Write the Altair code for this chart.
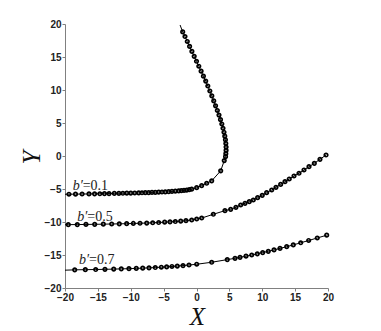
import altair as alt
import pandas as pd

# b'=0.1 curve (markers, in drawing order)
b01_x = [-19.4, -18.4, -17.4, -16.35, -15.5, -14.7, -14.0, -13.3, -12.5, -11.8, -11.2, -10.6,
         -10.0, -9.4, -8.79, -8.29, -7.79, -7.27, -6.77, -6.27, -5.75, -5.25, -4.75, -4.23,
         -3.73, -3.22, -2.71, -2.31, -1.9, -1.49, -1.1, -0.73, 0.03, 0.79, 1.55, 2.31, 3.68,
         4.22, 4.42, 4.46, 4.5, 4.5, 4.46, 4.4, 4.3, 4.18, 4.03, 3.85, 3.65, 3.42, 3.17, 2.9,
         2.62, 2.33, 2.03, 1.72, 1.4, 1.05, 0.7, 0.35, 0.0, -0.35, -0.7, -1.05, -1.4, -1.75, -2.1]
b01_y = [-5.79, -5.78, -5.76, -5.75, -5.73, -5.72, -5.7, -5.69, -5.67, -5.66, -5.65, -5.63,
         -5.62, -5.6, -5.59, -5.57, -5.56, -5.54, -5.52, -5.5, -5.48, -5.46, -5.43, -5.4,
         -5.37, -5.33, -5.29, -5.25, -5.21, -5.16, -5.1, -5.03, -4.8, -4.48, -4.13, -3.76, -2.25,
         -0.7, -0.1, 0.35, 0.85, 1.35, 1.9, 2.45, 3.0, 3.6, 4.2, 4.85, 5.5, 6.2, 6.9, 7.6,
         8.35, 9.1, 9.85, 10.6, 11.35, 12.1, 12.85, 13.6, 14.35, 15.1, 15.85, 16.6, 17.35, 18.1, 18.8]
b01_start = (-20.0, -5.8)
b01_end = (-2.5, 19.85)

# b'=0.5 curve
b05_x = [-19.5, -18.13, -16.81, -15.48, -14.17, -12.9, -11.74, -10.62, -9.61, -8.59, -7.57,
         -6.66, -5.75, -4.84, -4.03, -3.22, -2.4, -1.6, -0.73, 0.03, 0.79, 2.56, 4.33, 5.2,
         6.0, 6.72, 7.38, 8.03, 8.64, 9.3, 10.0, 10.67, 11.44, 12.09, 12.8, 13.46, 14.11,
         14.83, 15.59, 16.35, 17.11, 17.92, 18.78, 19.7]
b05_y = [-10.4, -10.39, -10.37, -10.35, -10.33, -10.3, -10.28, -10.25, -10.22, -10.19, -10.16,
         -10.12, -10.08, -10.03, -9.98, -9.93, -9.87, -9.8, -9.7, -9.55, -9.4, -8.83, -8.28, -8.08,
         -7.78, -7.42, -7.17, -6.92, -6.67, -6.31, -5.96, -5.56, -5.15, -4.75, -4.3, -3.89, -3.48,
         -3.03, -2.62, -2.12, -1.62, -1.11, -0.5, 0.15]
b05_start = (-20.0, -10.42)

# b'=0.7 curve
b07_x = [-18.52, -16.91, -15.33, -13.92, -12.59, -11.44, -10.27, -9.16, -8.18, -7.22, -6.27,
         -5.35, -4.54, -3.73, -2.92, -2.05, -1.14, 0.03, 2.31, 4.68, 5.86, 6.62, 7.53, 8.40,
         9.25, 10.07, 10.92, 11.79, 12.70, 13.72, 14.72, 15.85, 17.06, 18.37, 19.80]
b07_y = [-17.25, -17.22, -17.2, -17.17, -17.14, -17.1, -17.07, -17.03, -16.99, -16.95, -16.9,
         -16.85, -16.8, -16.74, -16.68, -16.6, -16.52, -16.4, -16.1, -15.7, -15.5, -15.35, -15.18, -15.0,
         -14.82, -14.63, -14.44, -14.23, -14.0, -13.74, -13.47, -13.15, -12.8, -12.42, -12.0]
b07_start = (-20.0, -17.3)

labels = ["0.1", "0.5", "0.7"]
label_x = [-18.83, -18.13, -17.87]
label_y = [-5.15, -9.85, -16.36]

rows = []
def add(name, xs, ys, start, end=None):
    o = 0
    rows.append(dict(curve=name, x=start[0], y=start[1], ord=o, m=0))
    for xv, yv in zip(xs, ys):
        o += 1
        rows.append(dict(curve=name, x=xv, y=yv, ord=o, m=1))
    if end is not None:
        rows.append(dict(curve=name, x=end[0], y=end[1], ord=o + 1, m=0))

add("0.1", b01_x, b01_y, b01_start, b01_end)
add("0.5", b05_x, b05_y, b05_start)
add("0.7", b07_x, b07_y, b07_start)
df = pd.DataFrame(rows)
lab = pd.DataFrame({"x": label_x, "y": label_y, "t": ["=" + s for s in labels]})

xs = alt.Scale(domain=[-20, 20], nice=False, zero=False)
ys = alt.Scale(domain=[-20, 20], nice=False, zero=False)
ticks = [-20, -15, -10, -5, 0, 5, 10, 15, 20]

axis_common = dict(grid=False, domainColor="#808080", tickColor="#808080", tickSize=3,
                   labelFont="Liberation Sans", labelFontWeight="bold", labelFontSize=10,
                   labelColor="#222222", labelPadding=1, values=ticks, labelOverlap=False,
                   labelFlush=False,
                   titleFont="Liberation Serif", titleFontStyle="italic",
                   titleFontWeight="normal", titleFontSize=25, titleColor="#111111",
                   titleBaseline="middle")

x_ax = alt.Axis(title="X", titleX=132, titleY=28, **axis_common)
y_ax = alt.Axis(title="Y", titleX=-34, titleY=133, titleAngle=270, **axis_common)

def X():
    return alt.X("x:Q", scale=xs, axis=x_ax)

def Y():
    return alt.Y("y:Q", scale=ys, axis=y_ax)

line = alt.Chart(df).mark_line(color="black", strokeWidth=1).encode(
    x=X(), y=Y(), detail="curve:N", order="ord:Q",
)
pts = alt.Chart(df).transform_filter("datum.m == 1").mark_point(
    shape="circle", filled=False, color="#000000", strokeWidth=1.7, size=12, opacity=1
).encode(x=X(), y=Y())

txt_b = alt.Chart(lab).mark_text(text="b′", font="Liberation Serif", fontStyle="italic",
                                   fontSize=14, align="left", baseline="alphabetic",
                                   color="#222222").encode(x=X(), y=Y())
txt_v = alt.Chart(lab).mark_text(font="Liberation Serif", fontSize=14, align="left",
                                 baseline="alphabetic", dx=10, color="#222222").encode(
    x=X(), y=Y(), text="t:N")

chart = alt.layer(line, pts, txt_b, txt_v).properties(
    width=263, height=264,
    padding={"left": 57, "top": 16, "right": 45, "bottom": 40},
    autosize=alt.AutoSizeParams(type="none"),
).configure_view(stroke=None)

chart.save("out.html", embed_options={"renderer": "svg", "actions": False})
